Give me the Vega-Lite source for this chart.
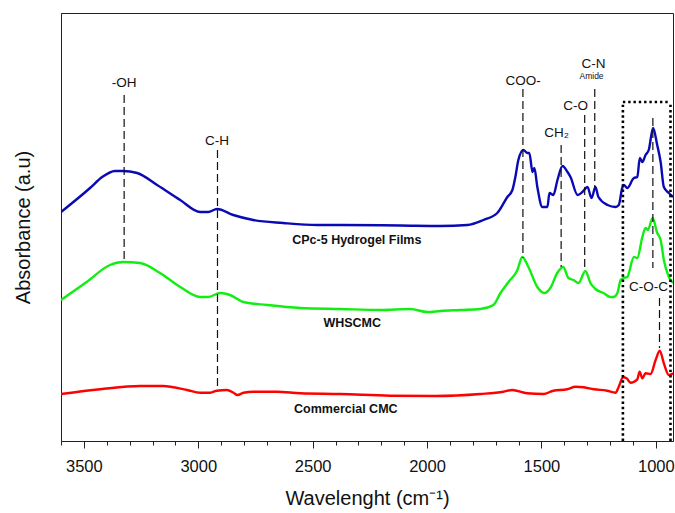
{
  "$schema": "https://vega.github.io/schema/vega-lite/v6.json",
  "width": 612,
  "height": 428,
  "autosize": {"type": "none"},
  "padding": {"left": 61, "top": 13, "right": 2, "bottom": 72},
  "background": "white",
  "config": {
    "view": {"stroke": "#222", "strokeWidth": 1},
    "font": "Liberation Sans",
    "axis": {"grid": false}
  },
  "datasets": {
    "spectra": [
      {"series": "CPc-5", "wn": 3600, "abs": 2.29}, {"series": "CPc-5", "wn": 3473, "abs": 2.53}, {"series": "CPc-5", "wn": 3420, "abs": 2.64}, {"series": "CPc-5", "wn": 3364, "abs": 2.70}, {"series": "CPc-5", "wn": 3329, "abs": 2.70}, {"series": "CPc-5", "wn": 3267, "abs": 2.68}, {"series": "CPc-5", "wn": 3180, "abs": 2.56}, {"series": "CPc-5", "wn": 3079, "abs": 2.41}, {"series": "CPc-5", "wn": 2992, "abs": 2.29}, {"series": "CPc-5", "wn": 2957, "abs": 2.29}, {"series": "CPc-5", "wn": 2918, "abs": 2.32}, {"series": "CPc-5", "wn": 2847, "abs": 2.26}, {"series": "CPc-5", "wn": 2760, "abs": 2.21}, {"series": "CPc-5", "wn": 2629, "abs": 2.18}, {"series": "CPc-5", "wn": 2480, "abs": 2.16}, {"series": "CPc-5", "wn": 2379, "abs": 2.16}, {"series": "CPc-5", "wn": 2117, "abs": 2.155}, {"series": "CPc-5", "wn": 1942, "abs": 2.15}, {"series": "CPc-5", "wn": 1824, "abs": 2.16}, {"series": "CPc-5", "wn": 1754, "abs": 2.21}, {"series": "CPc-5", "wn": 1693, "abs": 2.28}, {"series": "CPc-5", "wn": 1649, "abs": 2.44}, {"series": "CPc-5", "wn": 1627, "abs": 2.51}, {"series": "CPc-5", "wn": 1614, "abs": 2.64}, {"series": "CPc-5", "wn": 1601, "abs": 2.81}, {"series": "CPc-5", "wn": 1579, "abs": 2.91}, {"series": "CPc-5", "wn": 1561, "abs": 2.88}, {"series": "CPc-5", "wn": 1553, "abs": 2.88}, {"series": "CPc-5", "wn": 1539, "abs": 2.69}, {"series": "CPc-5", "wn": 1531, "abs": 2.73}, {"series": "CPc-5", "wn": 1518, "abs": 2.54}, {"series": "CPc-5", "wn": 1496, "abs": 2.34}, {"series": "CPc-5", "wn": 1474, "abs": 2.34}, {"series": "CPc-5", "wn": 1465, "abs": 2.48}, {"series": "CPc-5", "wn": 1448, "abs": 2.46}, {"series": "CPc-5", "wn": 1430, "abs": 2.61}, {"series": "CPc-5", "wn": 1408, "abs": 2.75}, {"series": "CPc-5", "wn": 1386, "abs": 2.69}, {"series": "CPc-5", "wn": 1373, "abs": 2.64}, {"series": "CPc-5", "wn": 1342, "abs": 2.46}, {"series": "CPc-5", "wn": 1321, "abs": 2.49}, {"series": "CPc-5", "wn": 1299, "abs": 2.54}, {"series": "CPc-5", "wn": 1281, "abs": 2.43}, {"series": "CPc-5", "wn": 1264, "abs": 2.54}, {"series": "CPc-5", "wn": 1251, "abs": 2.44}, {"series": "CPc-5", "wn": 1211, "abs": 2.36}, {"series": "CPc-5", "wn": 1176, "abs": 2.34}, {"series": "CPc-5", "wn": 1162, "abs": 2.36}, {"series": "CPc-5", "wn": 1147, "abs": 2.53}, {"series": "CPc-5", "wn": 1140, "abs": 2.56}, {"series": "CPc-5", "wn": 1125, "abs": 2.53}, {"series": "CPc-5", "wn": 1096, "abs": 2.63}, {"series": "CPc-5", "wn": 1081, "abs": 2.64}, {"series": "CPc-5", "wn": 1070, "abs": 2.83}, {"series": "CPc-5", "wn": 1059, "abs": 2.79}, {"series": "CPc-5", "wn": 1045, "abs": 2.86}, {"series": "CPc-5", "wn": 1031, "abs": 2.91}, {"series": "CPc-5", "wn": 1012, "abs": 3.13}, {"series": "CPc-5", "wn": 994, "abs": 2.96}, {"series": "CPc-5", "wn": 979, "abs": 2.79}, {"series": "CPc-5", "wn": 965, "abs": 2.54}, {"series": "CPc-5", "wn": 943, "abs": 2.48}, {"series": "CPc-5", "wn": 925, "abs": 2.44},
      {"series": "WHSCMC", "wn": 3600, "abs": 1.41}, {"series": "WHSCMC", "wn": 3488, "abs": 1.59}, {"series": "WHSCMC", "wn": 3386, "abs": 1.76}, {"series": "WHSCMC", "wn": 3329, "abs": 1.79}, {"series": "WHSCMC", "wn": 3254, "abs": 1.78}, {"series": "WHSCMC", "wn": 3167, "abs": 1.68}, {"series": "WHSCMC", "wn": 3079, "abs": 1.54}, {"series": "WHSCMC", "wn": 2992, "abs": 1.44}, {"series": "WHSCMC", "wn": 2957, "abs": 1.44}, {"series": "WHSCMC", "wn": 2904, "abs": 1.48}, {"series": "WHSCMC", "wn": 2861, "abs": 1.46}, {"series": "WHSCMC", "wn": 2804, "abs": 1.39}, {"series": "WHSCMC", "wn": 2699, "abs": 1.36}, {"series": "WHSCMC", "wn": 2554, "abs": 1.33}, {"series": "WHSCMC", "wn": 2379, "abs": 1.32}, {"series": "WHSCMC", "wn": 2204, "abs": 1.31}, {"series": "WHSCMC", "wn": 2073, "abs": 1.32}, {"series": "WHSCMC", "wn": 1999, "abs": 1.29}, {"series": "WHSCMC", "wn": 1942, "abs": 1.30}, {"series": "WHSCMC", "wn": 1854, "abs": 1.31}, {"series": "WHSCMC", "wn": 1767, "abs": 1.32}, {"series": "WHSCMC", "wn": 1710, "abs": 1.36}, {"series": "WHSCMC", "wn": 1679, "abs": 1.48}, {"series": "WHSCMC", "wn": 1644, "abs": 1.59}, {"series": "WHSCMC", "wn": 1605, "abs": 1.71}, {"series": "WHSCMC", "wn": 1584, "abs": 1.84}, {"series": "WHSCMC", "wn": 1557, "abs": 1.74}, {"series": "WHSCMC", "wn": 1518, "abs": 1.54}, {"series": "WHSCMC", "wn": 1487, "abs": 1.48}, {"series": "WHSCMC", "wn": 1461, "abs": 1.53}, {"series": "WHSCMC", "wn": 1431, "abs": 1.68}, {"series": "WHSCMC", "wn": 1405, "abs": 1.74}, {"series": "WHSCMC", "wn": 1382, "abs": 1.63}, {"series": "WHSCMC", "wn": 1360, "abs": 1.61}, {"series": "WHSCMC", "wn": 1338, "abs": 1.58}, {"series": "WHSCMC", "wn": 1308, "abs": 1.70}, {"series": "WHSCMC", "wn": 1286, "abs": 1.58}, {"series": "WHSCMC", "wn": 1264, "abs": 1.52}, {"series": "WHSCMC", "wn": 1229, "abs": 1.48}, {"series": "WHSCMC", "wn": 1198, "abs": 1.44}, {"series": "WHSCMC", "wn": 1185, "abs": 1.44}, {"series": "WHSCMC", "wn": 1168, "abs": 1.48}, {"series": "WHSCMC", "wn": 1154, "abs": 1.61}, {"series": "WHSCMC", "wn": 1141, "abs": 1.63}, {"series": "WHSCMC", "wn": 1125, "abs": 1.64}, {"series": "WHSCMC", "wn": 1096, "abs": 1.84}, {"series": "WHSCMC", "wn": 1081, "abs": 1.83}, {"series": "WHSCMC", "wn": 1059, "abs": 2.04}, {"series": "WHSCMC", "wn": 1045, "abs": 2.13}, {"series": "WHSCMC", "wn": 1035, "abs": 2.11}, {"series": "WHSCMC", "wn": 1014, "abs": 2.23}, {"series": "WHSCMC", "wn": 994, "abs": 2.08}, {"series": "WHSCMC", "wn": 979, "abs": 2.01}, {"series": "WHSCMC", "wn": 965, "abs": 1.81}, {"series": "WHSCMC", "wn": 943, "abs": 1.64}, {"series": "WHSCMC", "wn": 925, "abs": 1.58},
      {"series": "CMC", "wn": 3600, "abs": 0.47}, {"series": "CMC", "wn": 3429, "abs": 0.517}, {"series": "CMC", "wn": 3254, "abs": 0.55}, {"series": "CMC", "wn": 3154, "abs": 0.55}, {"series": "CMC", "wn": 3049, "abs": 0.51}, {"series": "CMC", "wn": 2992, "abs": 0.483}, {"series": "CMC", "wn": 2948, "abs": 0.483}, {"series": "CMC", "wn": 2919, "abs": 0.503}, {"series": "CMC", "wn": 2875, "abs": 0.51}, {"series": "CMC", "wn": 2846, "abs": 0.483}, {"series": "CMC", "wn": 2829, "abs": 0.46}, {"series": "CMC", "wn": 2802, "abs": 0.483}, {"series": "CMC", "wn": 2759, "abs": 0.493}, {"series": "CMC", "wn": 2656, "abs": 0.493}, {"series": "CMC", "wn": 2554, "abs": 0.477}, {"series": "CMC", "wn": 2379, "abs": 0.47}, {"series": "CMC", "wn": 2161, "abs": 0.453}, {"series": "CMC", "wn": 1964, "abs": 0.45}, {"series": "CMC", "wn": 1767, "abs": 0.47}, {"series": "CMC", "wn": 1666, "abs": 0.493}, {"series": "CMC", "wn": 1628, "abs": 0.51}, {"series": "CMC", "wn": 1563, "abs": 0.477}, {"series": "CMC", "wn": 1491, "abs": 0.47}, {"series": "CMC", "wn": 1448, "abs": 0.503}, {"series": "CMC", "wn": 1388, "abs": 0.517}, {"series": "CMC", "wn": 1351, "abs": 0.543}, {"series": "CMC", "wn": 1315, "abs": 0.537}, {"series": "CMC", "wn": 1271, "abs": 0.517}, {"series": "CMC", "wn": 1213, "abs": 0.503}, {"series": "CMC", "wn": 1176, "abs": 0.483}, {"series": "CMC", "wn": 1162, "abs": 0.543}, {"series": "CMC", "wn": 1143, "abs": 0.637}, {"series": "CMC", "wn": 1128, "abs": 0.627}, {"series": "CMC", "wn": 1111, "abs": 0.583}, {"series": "CMC", "wn": 1081, "abs": 0.617}, {"series": "CMC", "wn": 1071, "abs": 0.693}, {"series": "CMC", "wn": 1059, "abs": 0.627}, {"series": "CMC", "wn": 1045, "abs": 0.677}, {"series": "CMC", "wn": 1023, "abs": 0.67}, {"series": "CMC", "wn": 1001, "abs": 0.81}, {"series": "CMC", "wn": 983, "abs": 0.903}, {"series": "CMC", "wn": 965, "abs": 0.777}, {"series": "CMC", "wn": 943, "abs": 0.66}, {"series": "CMC", "wn": 925, "abs": 0.677}
    ],
    "dashes": [
      {"band": "-OH", "wn": 3324, "abs": 3.46, "abs2": 1.79},
      {"band": "C-H", "wn": 2916, "abs": 2.91, "abs2": 0.51},
      {"band": "COO-", "wn": 1581, "abs": 3.52, "abs2": 1.83},
      {"band": "CH2", "wn": 1414, "abs": 2.96, "abs2": 1.74},
      {"band": "C-O", "wn": 1311, "abs": 3.26, "abs2": 1.71},
      {"band": "C-N", "wn": 1267, "abs": 3.52, "abs2": 2.53},
      {"band": "C-O-C region", "wn": 1013, "abs": 3.23, "abs2": 1.73},
      {"band": "C-O-C", "wn": 984, "abs": 1.43, "abs2": 0.93}
    ],
    "box": [
      {"side": "left", "wn": 1144, "wn2": 1144, "abs": 0, "abs2": 3.39},
      {"side": "right", "wn": 936, "wn2": 936, "abs": 0, "abs2": 3.39},
      {"side": "top", "wn": 1144, "wn2": 936, "abs": 3.39, "abs2": 3.39}
    ],
    "bands": [
      {"label": "-OH", "wn": 3324, "abs": 3.58, "size": 13.5},
      {"label": "C-H", "wn": 2918, "abs": 3.0, "size": 13.5},
      {"label": "COO-", "wn": 1580, "abs": 3.6, "size": 13.5},
      {"label": "CH₂", "wn": 1434, "abs": 3.08, "size": 13.5},
      {"label": "C-O", "wn": 1351, "abs": 3.35, "size": 13.5},
      {"label": "C-N", "wn": 1272, "abs": 3.77, "size": 13.5},
      {"label": "Amide", "wn": 1281, "abs": 3.65, "size": 8.5},
      {"label": "C-O-C", "wn": 1032, "abs": 1.54, "size": 13.5}
    ],
    "names": [
      {"label": "CPc-5 Hydrogel Films", "wn": 2307, "abs": 2.01},
      {"label": "WHSCMC", "wn": 2327, "abs": 1.18},
      {"label": "Commercial CMC", "wn": 2355, "abs": 0.32}
    ]
  },
  "encoding": {
    "x": {
      "field": "wn", "type": "quantitative",
      "scale": {"domain": [925, 3600], "reverse": true, "nice": false, "zero": false},
      "axis": {
        "title": "Wavelenght (cm⁻¹)",
        "values": [1000, 1100, 1200, 1300, 1400, 1500, 1600, 1700, 1800, 1900, 2000, 2100, 2200, 2300, 2400, 2500, 2600, 2700, 2800, 2900, 3000, 3100, 3200, 3300, 3400, 3500, 3600],
        "format": "d",
        "labelExpr": "datum.value % 500 === 0 && datum.value < 3600 ? datum.label : ''",
        "tickSize": {"condition": {"test": "datum.value % 500 === 0", "value": 7}, "value": 4},
        "tickColor": "#222", "domainColor": "#222",
        "labelFontSize": 16.5, "labelColor": "#111", "labelPadding": 10,
        "titleFontSize": 20, "titleFontWeight": "normal", "titleColor": "#111", "titlePadding": 14
      }
    },
    "y": {
      "field": "abs", "type": "quantitative",
      "scale": {"domain": [0, 4.28], "nice": false, "zero": false},
      "axis": {
        "title": "Absorbance (a.u)", "labels": false, "ticks": false, "domainColor": "#222",
        "titleFontSize": 20, "titleFontWeight": "normal", "titleColor": "#111", "titlePadding": 28
      }
    }
  },
  "layer": [
    {
      "data": {"name": "spectra"},
      "mark": {"type": "line", "strokeWidth": 2.4, "clip": true, "interpolate": "monotone"},
      "encoding": {
        "color": {"field": "series", "type": "nominal", "legend": null,
          "scale": {"domain": ["CPc-5", "WHSCMC", "CMC"], "range": ["#0a0ab4", "#11ee11", "#ff0000"]}},
        "order": {"field": "wn", "type": "quantitative"}
      }
    },
    {
      "data": {"name": "dashes"},
      "mark": {"type": "rule", "color": "#111", "strokeWidth": 1.2, "strokeDash": [8, 4]},
      "encoding": {"y2": {"field": "abs2"}}
    },
    {
      "data": {"name": "box"},
      "mark": {"type": "rule", "color": "#000", "strokeWidth": 2.6, "strokeDash": [2.4, 2.9]},
      "encoding": {"x2": {"field": "wn2"}, "y2": {"field": "abs2"}}
    },
    {
      "data": {"name": "bands"},
      "mark": {"type": "text", "align": "center", "baseline": "middle", "color": "#111"},
      "encoding": {"text": {"field": "label"}, "size": {"field": "size", "type": "quantitative", "scale": null}}
    },
    {
      "data": {"name": "names"},
      "mark": {"type": "text", "align": "center", "baseline": "middle", "fontWeight": "bold", "fontSize": 12.5, "color": "#111"},
      "encoding": {"text": {"field": "label"}}
    }
  ]
}
